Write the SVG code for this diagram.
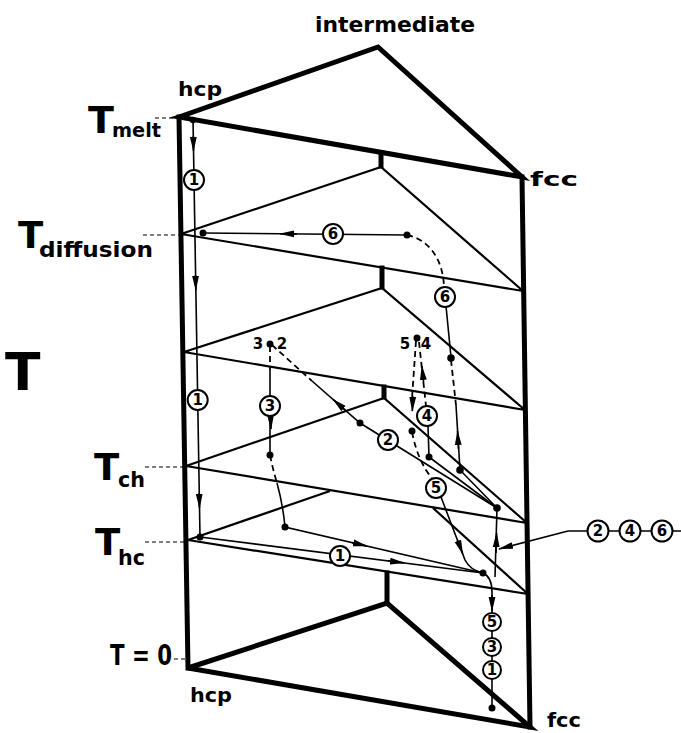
<svg xmlns="http://www.w3.org/2000/svg" width="681" height="733" viewBox="0 0 681 733">
<style>
text{font-family:"DejaVu Sans","Liberation Sans",sans-serif;font-weight:bold;fill:#000}
.thick{fill:none;stroke:#000;stroke-width:5;stroke-linejoin:miter;stroke-linecap:square}
.pl{fill:none;stroke:#000;stroke-width:2.2}
.p{fill:none;stroke:#000;stroke-width:1.6}
.d{fill:none;stroke:#000;stroke-width:1.8;stroke-dasharray:6 4}
.ld{fill:none;stroke:#000;stroke-width:1.2;stroke-dasharray:4 3}
.ar{fill:none;stroke:#000;stroke-width:1.6;marker-end:url(#ah)}
.c{fill:#fff;stroke:#000;stroke-width:2}
.n{font-size:15px;text-anchor:middle}
.dot{fill:#000}
</style>
<defs>
<marker id="ah" markerUnits="userSpaceOnUse" markerWidth="16" markerHeight="8" refX="14" refY="4" orient="auto">
<path d="M0,0.6 L15,4 L0,7.4 Z" fill="#000"/>
</marker>
</defs>

<g id="prism">
<path class="thick" d="M179,117 L378,47 L522,177 Z"/>
<path class="thick" d="M179,117 L188,668"/>
<path class="thick" d="M522,177 L530,727"/>
<path class="thick" d="M188,668 L387,603 L530,727 Z"/>
<path class="thick" d="M381,153 L381,166 M382,268 L382,287 M384,387 L384,397 M387,573 L387,602"/>
</g>

<g id="plane-diffusion">
<path class="pl" d="M181,234 L381,167 L523,291 M181,234 L523,291"/>
</g>
<g id="plane-mid">
<path class="pl" d="M184,352 L382,288 L525,410 M184,352 L525,410"/>
</g>
<g id="plane-ch">
<path class="pl" d="M186,466 L384,398 L527,523 M186,466 L527,523"/>
</g>
<g id="plane-hc">
<path class="pl" d="M188,540 L330,491 M433,508 L528,594 M188,540 L528,594"/>
</g>

<g id="labels">
<text x="315" y="32" font-size="22" textLength="160" lengthAdjust="spacingAndGlyphs">intermediate</text>
<text x="178" y="96" font-size="20" textLength="44" lengthAdjust="spacingAndGlyphs">hcp</text>
<text x="530" y="186" font-size="20" textLength="48" lengthAdjust="spacingAndGlyphs">fcc</text>
<text x="88" y="133" font-size="38">T</text>
<text x="112" y="137" font-size="20" textLength="49" lengthAdjust="spacingAndGlyphs">melt</text>
<text x="18" y="248" font-size="37">T</text>
<text x="39" y="257" font-size="22" textLength="114" lengthAdjust="spacingAndGlyphs">diffusion</text>
<text x="5" y="390" font-size="52">T</text>
<text x="94" y="480" font-size="37">T</text>
<text x="118" y="487" font-size="22" textLength="27" lengthAdjust="spacingAndGlyphs">ch</text>
<text x="95" y="555" font-size="37">T</text>
<text x="118" y="565" font-size="22" textLength="27" lengthAdjust="spacingAndGlyphs">hc</text>
<text x="110" y="665" font-size="28" textLength="62" lengthAdjust="spacingAndGlyphs">T = 0</text>
<text x="190" y="702" font-size="20" textLength="42" lengthAdjust="spacingAndGlyphs">hcp</text>
<text x="547" y="727" font-size="20" textLength="34" lengthAdjust="spacingAndGlyphs">fcc</text>
<path class="ld" d="M155,118 L180,118 M143,235 L181,235 M145,467 L186,467 M145,542 L188,542 M174,659 L186,659"/>
<text x="258" y="349" font-size="15" text-anchor="middle">3</text>
<text x="282" y="349" font-size="15" text-anchor="middle">2</text>
<text x="405" y="349" font-size="15" text-anchor="middle">5</text>
<text x="426" y="349" font-size="15" text-anchor="middle">4</text>
</g>

<g id="connectors">
<!-- path 1 -->
<path class="p" d="M193,119 L200,537"/>
<path class="ar" d="M193.3,136 L193.5,151"/>
<path class="ar" d="M195.5,275 L195.8,290"/>
<path class="ar" d="M199.2,493 L199.5,508"/>
<path class="p" d="M200,537 L483,573"/>
<path class="ar" d="M388,560.9 L404,562.9"/>
<!-- path 3 -->
<path class="d" d="M270,346 L270,370"/>
<path class="p" d="M270,370 L270,455"/>
<path class="ar" d="M270.5,414 L271,429"/>
<path class="d" d="M270,455 Q273,470 277,483"/>
<path class="p" d="M277,483 Q283,505 285,527 L483,573"/>
<path class="ar" d="M352,542.6 L367,546.1"/>
<!-- path 2 -->
<path class="d" d="M272,345 L312,381"/>
<path class="p" d="M312,381 L360,423 L497,508"/>
<path class="ar" d="M347,411.6 L333,399.4"/>
<!-- path 4 -->
<path class="d" d="M419,342 L426,406"/>
<path class="ar" d="M423.6,382 L421.9,366"/>
<path class="p" d="M428,426 L429,457 L497,508"/>
<!-- path 5 -->
<path class="d" d="M416,341 L412,398"/>
<path class="ar" d="M412.8,396 L412.3,411"/>
<path class="d" d="M412,432 Q418,462 432,478"/>
<path class="p" d="M441,497 L465,560 Q470,570 483,573"/>
<path class="ar" d="M457.5,540 L462.8,554"/>
<!-- path 6 -->
<path class="p" d="M407,235 L203,233"/>
<path class="ar" d="M297,234 L280,233.8"/>
<path class="d" d="M407,235 C430,240 443,260 444,287"/>
<path class="p" d="M446,306 L451,357"/>
<path class="d" d="M451,360 L456,405"/>
<path class="p" d="M456,405 L460,470 L497,508"/>
<path class="ar" d="M458.5,449 L457.5,431"/>
<!-- common 2,4,6 -->
<path class="p" d="M497,508 L495,577"/>
<path class="ar" d="M496,553 L496.6,533"/>
<path class="p" d="M483,573 Q492,577 492,592 L492,708"/>
<path class="ar" d="M492,595 L492,611"/>
<!-- legend leader -->
<path class="ar" d="M568,531 L499,549"/>
<path class="p" d="M568,531 L588,531 M609,531 L619,531 M641,531 L651,531 M673,531 L681,531"/>
</g>

<g id="dots">
<circle class="dot" cx="193" cy="120" r="3.2"/>
<circle class="dot" cx="200" cy="537" r="3.5"/>
<circle class="dot" cx="270" cy="344" r="3.5"/>
<circle class="dot" cx="270" cy="455" r="3.5"/>
<circle class="dot" cx="285" cy="527" r="3.5"/>
<circle class="dot" cx="360" cy="423" r="3.5"/>
<circle class="dot" cx="417" cy="338" r="3.5"/>
<circle class="dot" cx="412" cy="431" r="3.5"/>
<circle class="dot" cx="429" cy="457" r="3.5"/>
<circle class="dot" cx="407" cy="235" r="3.5"/>
<circle class="dot" cx="203" cy="233" r="3.5"/>
<circle class="dot" cx="451" cy="358" r="3.8"/>
<circle class="dot" cx="460" cy="470" r="3.8"/>
<circle class="dot" cx="497" cy="508" r="3.8"/>
<circle class="dot" cx="483" cy="573" r="3.5"/>
<circle class="dot" cx="492" cy="708" r="3.5"/>
</g>

<g id="markers">
<g><circle class="c" cx="194" cy="180" r="10"/><text class="n" x="194" y="185">1</text></g>
<g><circle class="c" cx="197.7" cy="400" r="10"/><text class="n" x="197.7" y="405">1</text></g>
<g><circle class="c" cx="270" cy="406" r="10"/><text class="n" x="270" y="411">3</text></g>
<g><circle class="c" cx="388" cy="440" r="10"/><text class="n" x="388" y="445">2</text></g>
<g><circle class="c" cx="427" cy="416" r="10"/><text class="n" x="427" y="421">4</text></g>
<g><circle class="c" cx="436" cy="488" r="10"/><text class="n" x="436" y="493">5</text></g>
<g><circle class="c" cx="333" cy="234" r="10"/><text class="n" x="333" y="239">6</text></g>
<g><circle class="c" cx="445" cy="297" r="10"/><text class="n" x="445" y="302">6</text></g>
<g><circle class="c" cx="340" cy="556" r="10"/><text class="n" x="340" y="561">1</text></g>
<g><circle class="c" cx="492" cy="622" r="9"/><text class="n" x="492" y="627">5</text></g>
<g><circle class="c" cx="492" cy="647" r="9"/><text class="n" x="492" y="652">3</text></g>
<g><circle class="c" cx="492" cy="670" r="9"/><text class="n" x="492" y="675">1</text></g>
<g><circle class="c" cx="598" cy="531" r="10.5"/><text class="n" x="598" y="536">2</text></g>
<g><circle class="c" cx="630" cy="531" r="10.5"/><text class="n" x="630" y="536">4</text></g>
<g><circle class="c" cx="662" cy="531" r="10.5"/><text class="n" x="662" y="536">6</text></g>
</g>
</svg>
